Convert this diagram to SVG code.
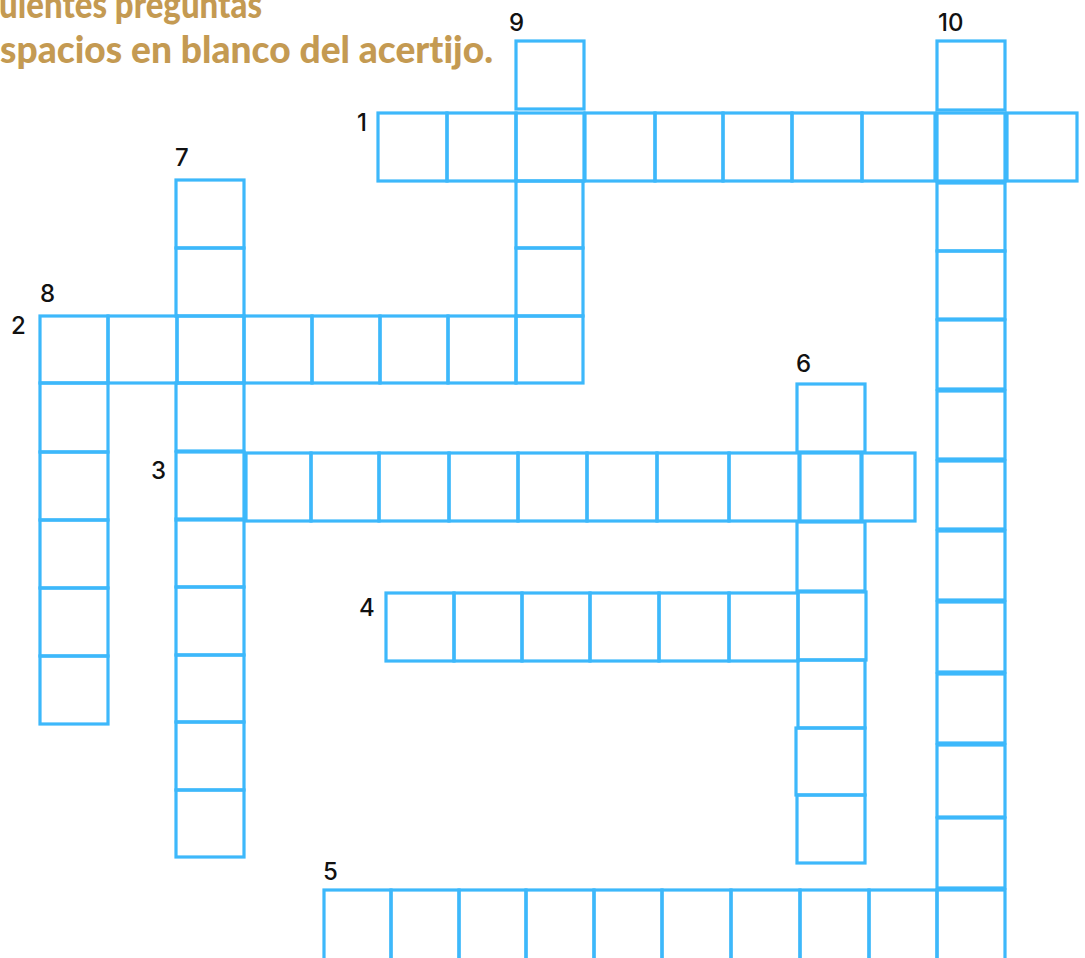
<svg xmlns="http://www.w3.org/2000/svg" width="1085" height="958" viewBox="0 0 1085 958">
<style>
.c{fill:none;stroke:#3db8fb;stroke-width:3.2}
.n{font-family:Inter,"Noto Sans",sans-serif;font-size:24px;font-weight:500;fill:#111}
.h{font-family:Lato,"Open Sans",sans-serif;font-weight:900;font-size:37px;fill:#c49a52;font-variant-ligatures:none}
</style>
<rect width="1085" height="958" fill="#fff"/>
<g id="header">
<text class="h" x="-1" y="18" textLength="263" lengthAdjust="spacingAndGlyphs">uientes preguntas</text>
<text class="h" x="0" y="63" textLength="493" lengthAdjust="spacingAndGlyphs">spacios en blanco del acertijo.</text>
</g>
<g id="word1">
<rect class="c" x="378" y="113" width="69" height="68"/>
<rect class="c" x="447" y="113" width="69" height="68"/>
<rect class="c" x="516" y="113" width="68" height="68"/>
<rect class="c" x="585" y="113" width="70" height="68"/>
<rect class="c" x="655" y="113" width="68" height="68"/>
<rect class="c" x="723" y="113" width="69" height="68"/>
<rect class="c" x="792" y="113" width="70" height="68"/>
<rect class="c" x="862" y="113" width="73" height="68"/>
<rect class="c" x="937" y="113" width="68" height="68"/>
<rect class="c" x="1007" y="113" width="70" height="68"/>
<text class="n" x="357" y="131">1</text>
</g>
<g id="word9">
<rect class="c" x="516" y="41" width="68" height="68"/>
<rect class="c" x="516" y="181" width="67" height="67"/>
<rect class="c" x="516" y="248" width="67" height="68"/>
<text class="n" x="509" y="31">9</text>
</g>
<g id="word10">
<rect class="c" x="937" y="41" width="68" height="69"/>
<rect class="c" x="937" y="183" width="68" height="68"/>
<rect class="c" x="937" y="251" width="68" height="68"/>
<rect class="c" x="937" y="320" width="68" height="69"/>
<rect class="c" x="937" y="391" width="68" height="68"/>
<rect class="c" x="937" y="461" width="68" height="68"/>
<rect class="c" x="937" y="531" width="68" height="69"/>
<rect class="c" x="937" y="602" width="68" height="70"/>
<rect class="c" x="937" y="674" width="68" height="69"/>
<rect class="c" x="937" y="745" width="68" height="72"/>
<rect class="c" x="937" y="818" width="68" height="70"/>
<text class="n" x="938" y="31">10</text>
</g>
<g id="word2">
<rect class="c" x="40" y="316" width="68" height="67"/>
<rect class="c" x="108" y="316" width="69" height="67"/>
<rect class="c" x="177" y="316" width="67" height="67"/>
<rect class="c" x="244" y="316" width="68" height="67"/>
<rect class="c" x="312" y="316" width="68" height="67"/>
<rect class="c" x="380" y="316" width="68" height="67"/>
<rect class="c" x="448" y="316" width="68" height="67"/>
<rect class="c" x="516" y="316" width="67" height="67"/>
<text class="n" x="11" y="334">2</text>
</g>
<g id="word8">
<rect class="c" x="40" y="383" width="68" height="69"/>
<rect class="c" x="40" y="452" width="68" height="68"/>
<rect class="c" x="40" y="520" width="68" height="68"/>
<rect class="c" x="40" y="588" width="68" height="68"/>
<rect class="c" x="40" y="656" width="68" height="68"/>
<text class="n" x="40" y="302">8</text>
</g>
<g id="word7">
<rect class="c" x="176" y="180" width="68" height="68"/>
<rect class="c" x="176" y="248" width="68" height="68"/>
<rect class="c" x="176" y="383" width="68" height="68"/>
<rect class="c" x="176" y="519" width="68" height="68"/>
<rect class="c" x="176" y="587" width="68" height="68"/>
<rect class="c" x="176" y="655" width="68" height="67"/>
<rect class="c" x="176" y="722" width="68" height="68"/>
<rect class="c" x="176" y="790" width="68" height="67"/>
<text class="n" x="175" y="166">7</text>
</g>
<g id="word3">
<rect class="c" x="176" y="452" width="68" height="68"/>
<rect class="c" x="246" y="453" width="65" height="68"/>
<rect class="c" x="311" y="453" width="68" height="68"/>
<rect class="c" x="379" y="453" width="70" height="68"/>
<rect class="c" x="449" y="453" width="69" height="68"/>
<rect class="c" x="518" y="453" width="69" height="68"/>
<rect class="c" x="587" y="453" width="70" height="68"/>
<rect class="c" x="657" y="453" width="72" height="68"/>
<rect class="c" x="729" y="453" width="70" height="68"/>
<rect class="c" x="800" y="453" width="61" height="68"/>
<rect class="c" x="862" y="453" width="53" height="68"/>
<text class="n" x="151" y="479">3</text>
</g>
<g id="word6">
<rect class="c" x="797" y="384" width="68" height="68"/>
<rect class="c" x="797" y="522" width="68" height="69"/>
<rect class="c" x="798" y="592" width="68" height="68"/>
<rect class="c" x="798" y="660" width="67" height="68"/>
<rect class="c" x="796" y="728" width="69" height="67"/>
<rect class="c" x="797" y="795" width="68" height="68"/>
<text class="n" x="796" y="372">6</text>
</g>
<g id="word4">
<rect class="c" x="386" y="593" width="68" height="68"/>
<rect class="c" x="454" y="593" width="68" height="68"/>
<rect class="c" x="522" y="593" width="68" height="68"/>
<rect class="c" x="590" y="593" width="69" height="68"/>
<rect class="c" x="659" y="593" width="70" height="68"/>
<rect class="c" x="729" y="593" width="69" height="68"/>
<text class="n" x="359" y="616">4</text>
</g>
<g id="word5">
<rect class="c" x="324" y="890" width="67" height="90"/>
<rect class="c" x="391" y="890" width="68" height="90"/>
<rect class="c" x="459" y="890" width="67" height="90"/>
<rect class="c" x="526" y="890" width="68" height="90"/>
<rect class="c" x="594" y="890" width="68" height="90"/>
<rect class="c" x="662" y="890" width="69" height="90"/>
<rect class="c" x="731" y="890" width="69" height="90"/>
<rect class="c" x="800" y="890" width="69" height="90"/>
<rect class="c" x="869" y="890" width="68" height="90"/>
<rect class="c" x="937" y="890" width="68" height="90"/>
<text class="n" x="323" y="880">5</text>
</g>
</svg>
